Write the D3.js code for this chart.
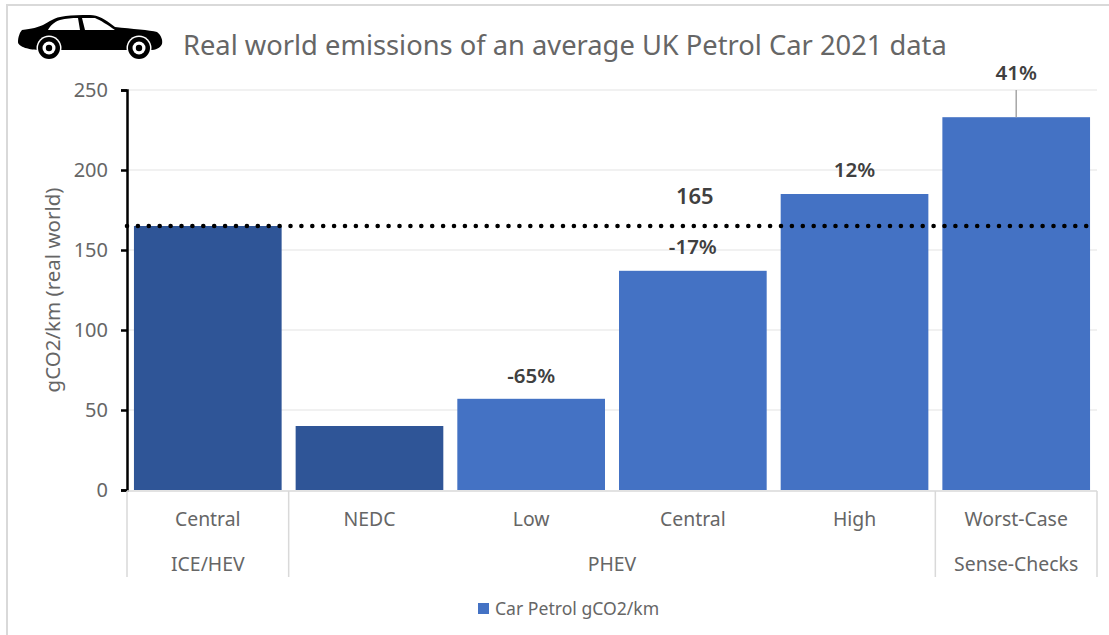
<!DOCTYPE html>
<html>
<head>
<meta charset="utf-8">
<script src="https://cdnjs.cloudflare.com/ajax/libs/d3/7.8.5/d3.min.js"></script>
<style>
html,body{margin:0;padding:0;background:#fff}
svg{display:block}
text{font-family:"Noto Sans","Open Sans",sans-serif}
</style>
</head>
<body>
<div id="chart"></div>
<script>
// Chart values
const scenarios = ["Central", "NEDC", "Low", "Central", "High", "Worst-Case"];
const emissions = [165, 40, 57, 137, 185, 233];
const barColours = ["#2f5597", "#2f5597", "#4472c4", "#4472c4", "#4472c4", "#4472c4"];
const changeLabels = [null, null, "-65%", "-17%", "12%", "41%"];
const labelRows = [null, null, 376, 247, 170, 73];
const groupNames = ["ICE/HEV", "PHEV", "Sense-Checks"];
const groupSpans = [[0, 0], [1, 4], [5, 5]];
const yTicks = [0, 50, 100, 150, 200, 250];
const baseline = 165;

const width = 1109, height = 635;
const plot = {left: 127, right: 1097, top: 90, bottom: 490};

const svg = d3.select("#chart").append("svg").attr("width", width).attr("height", height);

// Outer chart frame
svg.append("path")
  .attr("d", `M7,${height}V5H${width}`)
  .attr("fill", "none").attr("stroke", "#d9d9d9").attr("stroke-width", 2);

const x = d3.scaleBand().domain(d3.range(scenarios.length))
  .range([plot.left, plot.right]).paddingInner(0.0866).paddingOuter(0.043);
const y = d3.scaleLinear().domain([0, 250]).range([plot.bottom, plot.top]);
const slotLeft = i => plot.left + i * (plot.right - plot.left) / scenarios.length;

// Horizontal gridlines
svg.append("g").selectAll("line").data(yTicks.slice(1)).join("line")
  .attr("x1", plot.left).attr("x2", plot.right)
  .attr("y1", d => y(d)).attr("y2", d => y(d))
  .attr("stroke", "#ececec").attr("stroke-width", 1.5);

// Bars
svg.append("g").selectAll("rect").data(emissions).join("rect")
  .attr("x", (d, i) => x(i)).attr("width", x.bandwidth())
  .attr("y", d => y(d)).attr("height", d => y(0) - y(d))
  .attr("fill", (d, i) => barColours[i]);

// Leader from the tallest bar up to its label
svg.append("line")
  .attr("x1", x(5) + x.bandwidth() / 2).attr("x2", x(5) + x.bandwidth() / 2)
  .attr("y1", y(emissions[5])).attr("y2", y(250))
  .attr("stroke", "#a6a6a6").attr("stroke-width", 1.5);

// Value axis
const yAxis = svg.append("g").attr("transform", `translate(${plot.left},0)`)
  .call(d3.axisLeft(y).tickValues(yTicks).tickSize(6).tickPadding(13));
yAxis.selectAll("path,line").attr("stroke", "#000").attr("stroke-width", 2.5);
yAxis.selectAll("text").attr("fill", "#666").style("font-size", "20px");

svg.append("text")
  .attr("transform", "translate(53,290) rotate(-90)")
  .attr("text-anchor", "middle").attr("dy", "0.35em")
  .attr("fill", "#666").style("font-size", "20.5px")
  .text("gCO2/km (real world)");

// Two-level category axis
const axisColour = "#d9d9d9";
svg.append("line").attr("x1", plot.left).attr("x2", plot.right)
  .attr("y1", plot.bottom + 1).attr("y2", plot.bottom + 1)
  .attr("stroke", axisColour).attr("stroke-width", 1.5);
const dividers = [0, ...groupSpans.map(s => s[1] + 1)];
svg.append("g").selectAll("line").data(dividers).join("line")
  .attr("x1", d => slotLeft(d)).attr("x2", d => slotLeft(d))
  .attr("y1", plot.bottom + 1).attr("y2", 577)
  .attr("stroke", axisColour).attr("stroke-width", 1.5);

svg.append("g").selectAll("text").data(scenarios).join("text")
  .attr("x", (d, i) => x(i) + x.bandwidth() / 2).attr("y", 519.5)
  .attr("dy", "0.35em").attr("text-anchor", "middle")
  .attr("fill", "#666").style("font-size", "19.4px").text(d => d);

svg.append("g").selectAll("text").data(groupNames).join("text")
  .attr("x", (d, i) => (slotLeft(groupSpans[i][0]) + slotLeft(groupSpans[i][1] + 1)) / 2).attr("y", 564)
  .attr("dy", "0.35em").attr("text-anchor", "middle")
  .attr("fill", "#666").style("font-size", "19.4px").text(d => d);

// Dotted reference line
svg.append("line")
  .attr("x1", plot.left).attr("x2", plot.right)
  .attr("y1", y(baseline)).attr("y2", y(baseline))
  .attr("stroke", "#000").attr("stroke-width", 4.6)
  .attr("stroke-linecap", "round").attr("stroke-dasharray", "0 10.9");

svg.append("text")
  .attr("x", x(3) + x.bandwidth() / 2 + 2).attr("y", 196).attr("dy", "0.35em")
  .attr("text-anchor", "middle").attr("fill", "#404040")
  .style("font-size", "22px").style("font-weight", 600).text(baseline);

// Change labels above the PHEV and worst-case bars
svg.append("g").selectAll("text").data(changeLabels).join("text")
  .attr("x", (d, i) => x(i) + x.bandwidth() / 2).attr("y", (d, i) => labelRows[i])
  .attr("dy", "0.35em").attr("text-anchor", "middle").attr("fill", "#404040")
  .style("font-size", "20.5px").style("font-weight", 600).text(d => d);

// Title
svg.append("text").attr("x", 183).attr("y", 45).attr("dy", "0.35em")
  .attr("fill", "#666").style("font-size", "27.3px")
  .text("Real world emissions of an average UK Petrol Car 2021 data");

// Legend
svg.append("rect").attr("x", 478).attr("y", 603).attr("width", 11).attr("height", 11).attr("fill", "#4472c4");
svg.append("text").attr("x", 495).attr("y", 608.5).attr("dy", "0.35em")
  .attr("fill", "#666").style("font-size", "17.6px").text("Car Petrol gCO2/km");

// Car pictogram
const car = svg.append("g");
car.append("path").attr("fill", "#000").attr("d",
  "M18,42 C18,37 20,32 22,30 C32,29 38,27 43,25 C47,23 49,21 52,20 C58,16 70,15 90,15 C98,15 105,19 115,27 C132,29 150,30 157,32 C161,35 163,40 162,44 C160,48 156,50 150,50 L40,50 C30,50 18,47 18,42 Z");
car.append("path").attr("fill", "#fff").attr("d",
  "M48,30 C50,26 54,22 60,20 C66,18.5 72,18 78,18 L80,30 Z M82,18 L95,18 C100,20 108,25 115,30 L85,30 Z");
[49, 139].forEach(cx => {
  car.append("circle").attr("cx", cx).attr("cy", 48).attr("r", 12.5).attr("fill", "#fff");
  car.append("circle").attr("cx", cx).attr("cy", 48).attr("r", 11).attr("fill", "#000");
  car.append("circle").attr("cx", cx).attr("cy", 48).attr("r", 6.5).attr("fill", "#fff");
  car.append("circle").attr("cx", cx).attr("cy", 48).attr("r", 3.2).attr("fill", "#000");
});
</script>
</body>
</html>
